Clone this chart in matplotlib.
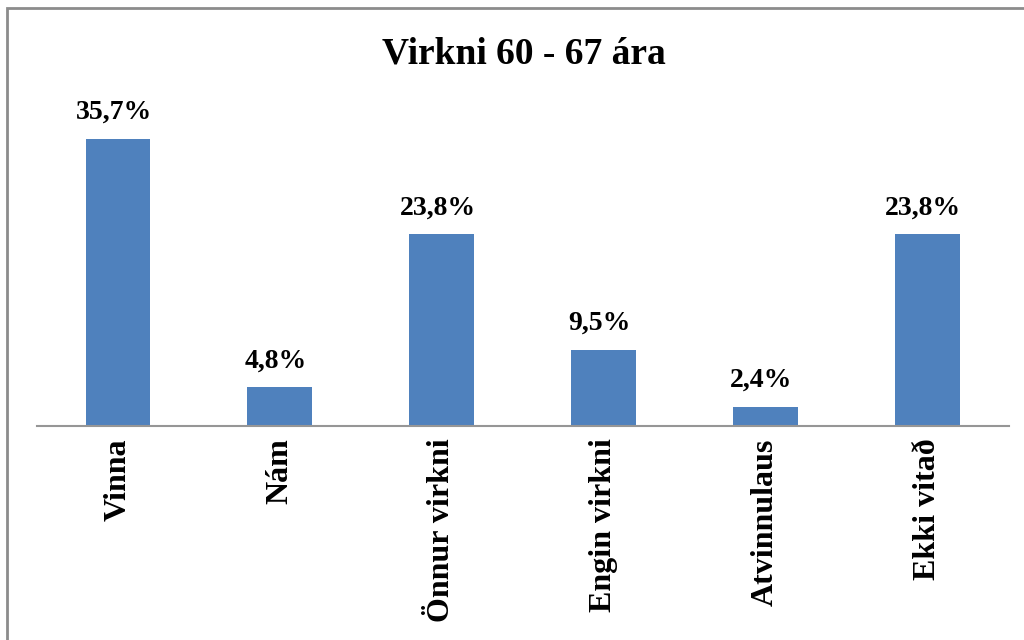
import matplotlib.pyplot as plt
from matplotlib.patches import Rectangle

plt.rcParams['font.family'] = ['Liberation Serif', 'DejaVu Serif']

categories = ['Vinna', 'Nám', 'Önnur virkni', 'Engin virkni', 'Atvinnulaus', 'Ekki vitað']
values = [35.7, 4.8, 23.8, 9.5, 2.4, 23.8]
labels = ['35,7%', '4,8%', '23,8%', '9,5%', '2,4%', '23,8%']

fig = plt.figure(figsize=(10.24, 6.4), dpi=100)
ax = fig.add_axes([37 / 1024, 1 - 426 / 640, 971.5 / 1024, 322 / 640])

x = range(len(categories))
bars = ax.bar(x, values, width=0.4, color='#4F81BD')

for b, lab in zip(bars, labels):
    ax.annotate(lab, (b.get_x() + b.get_width() / 2, b.get_height()),
                xytext=(-3, 10), textcoords='offset points',
                ha='center', va='bottom', fontsize=20, fontweight='bold')

ax.set_xlim(-0.5, len(categories) - 0.5)
ax.set_ylim(0, 40)
ax.set_xticks(list(x))
ax.set_xticklabels(categories, rotation=90, fontsize=23, fontweight='bold', va='top')
ax.tick_params(axis='x', length=0, pad=9)
ax.set_yticks([])
for s in ['top', 'right', 'left']:
    ax.spines[s].set_visible(False)
ax.spines['bottom'].set_color('#969696')
ax.spines['bottom'].set_linewidth(1.5)

fig.text(0.512, 1 - 54 / 640, 'Virkni 60 - 67 ára', ha='center', va='center',
         fontsize=27, fontweight='bold')

# border of the chart area
fig.patches.append(Rectangle((7 / 1024, -0.1), 1.2, 1.1 - 8 / 640,
                             transform=fig.transFigure, fill=False,
                             edgecolor='#8c8c8c', linewidth=2))

fig.savefig('out.png', dpi=100)
